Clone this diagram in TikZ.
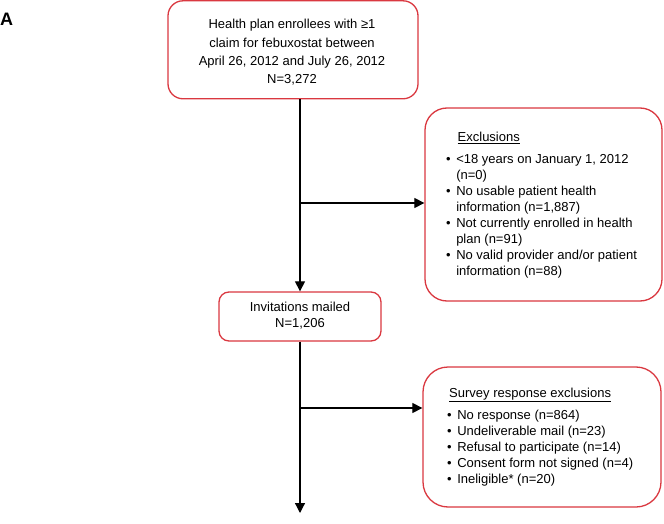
\documentclass[tikz,border=0pt]{standalone}
\usepackage{fontspec}
\setmainfont{Liberation Sans}
\usetikzlibrary{arrows.meta}
\definecolor{boxred}{RGB}{218,56,64}
\tikzset{
  redbox/.style={draw=boxred, line width=1.3pt, fill=white, inner sep=0pt},
  arr/.style={draw=black, line width=1.2pt, -{Triangle[length=10pt,width=10pt]}},
  txt/.style={inner sep=0pt, font=\fontsize{13}{16}\selectfont},
}
\begin{document}
\begin{tikzpicture}[x=1pt,y=-1pt]
\useasboundingbox (0,0) rectangle (664,524);
% label
\node[inner sep=0pt, anchor=base west, font=\fontsize{18}{20}\selectfont\bfseries] (lbl) at (0,25.5) {A};
% boxes
\node[redbox, rounded corners=15pt, minimum width=250pt, minimum height=98pt] (top) at (293,49.8) {};
\node[txt, align=center, font=\fontsize{13}{18.4}\selectfont] (toptext) at (292,52.5)
  {Health plan enrollees with ≥1\\claim for febuxostat between\\April 26, 2012 and July 26, 2012\\N=3,272};
\node[redbox, rounded corners=22pt, minimum width=237pt, minimum height=193pt] (exc) at (543.5,204.5) {};
\node[txt, anchor=base west] (exctext) at (446,141.7) {%
  \begin{tabular}[t]{@{}l@{\hspace{5.5pt}}l@{}}
  \multicolumn{2}{@{\hspace{11.5pt}}l}{\underline{Exclusions}}\\[5.5pt]
  \textbullet & <18 years on January 1, 2012\\
   & (n=0)\\
  \textbullet & No usable patient health\\
   & information (n=1,887)\\
  \textbullet & Not currently enrolled in health\\
   & plan (n=91)\\
  \textbullet & No valid provider and/or patient\\
   & information (n=88)
  \end{tabular}};
\node[redbox, rounded corners=10pt, minimum width=162pt, minimum height=49pt] (inv) at (300,316.5) {};
\node[txt, align=center] (invtext) at (300,315.5) {Invitations mailed\\N=1,206};
\node[redbox, rounded corners=25pt, minimum width=238pt, minimum height=140pt] (sur) at (542,437) {};
\node[txt, anchor=base west] (surtext) at (447,397.5) {%
  \begin{tabular}[t]{@{}l@{\hspace{5.5pt}}l@{}}
  \multicolumn{2}{@{\hspace{2pt}}l}{\underline{Survey response exclusions}}\\[5.5pt]
  \textbullet & No response (n=864)\\
  \textbullet & Undeliverable mail (n=23)\\
  \textbullet & Refusal to participate (n=14)\\
  \textbullet & Consent form not signed (n=4)\\
  \textbullet & Ineligible* (n=20)
  \end{tabular}};
% connector points
\coordinate (j1) at (300,203);
\coordinate (j2) at (300,408);
\coordinate (bottom) at (300,513);
% connectors
\draw[arr] (j1 |- top.south) -- (inv.north);
\draw[arr] (j1) -- (j1 -| exc.west);
\draw[arr] (inv.south) -- (bottom);
\draw[arr] (j2) -- (j2 -| sur.west);
\end{tikzpicture}
\end{document}
